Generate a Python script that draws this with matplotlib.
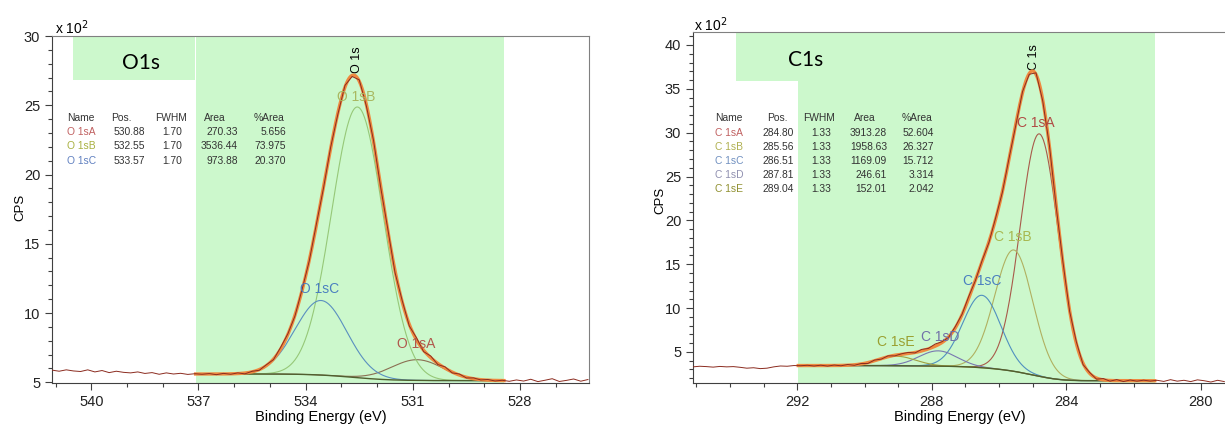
"""XPS O1s / C1s peak fits, CasaXPS style."""

import matplotlib.pyplot as plt
import numpy as np
from matplotlib.patches import Rectangle
from matplotlib.ticker import MultipleLocator

plt.rcParams["font.family"] = ["Liberation Sans", "DejaVu Sans"]

# Fit tables (values printed in the reference); intensities in CPS x 10^2.
o1s_names = ["O 1sA", "O 1sB", "O 1sC"]
o1s_pos = [530.88, 532.55, 533.57]
o1s_fwhm = [1.70, 1.70, 1.70]
o1s_area = [270.33, 3536.44, 973.88]
o1s_pct = [5.656, 73.975, 20.370]

c1s_names = ["C 1sA", "C 1sB", "C 1sC", "C 1sD", "C 1sE"]
c1s_pos = [284.80, 285.56, 286.51, 287.81, 289.04]
c1s_fwhm = [1.33, 1.33, 1.33, 1.33, 1.33]
c1s_area = [3913.28, 1958.63, 1169.09, 246.61, 152.01]
c1s_pct = [52.604, 26.327, 15.712, 3.314, 2.042]

# Fit windows and background end levels.
o1s_window = (528.45, 537.08)
o1s_bg_ends = (5.12, 5.6)  # low BE, high BE
c1s_window = (281.37, 291.97)
c1s_bg_ends = (1.72, 3.45)

# Raw-data deviations from the model, one per 0.2 eV from the low-BE end.
o1s_resid = [
    0.08, -0.04, 0.12, 0.02, -0.06, 0.14, 0.03, -0.07, 0.10, -0.03,
    0.05, -0.05, 0.02, -0.04, 0.05, -0.02, 0.06, -0.05, 0.08, -0.06,
    0.10, -0.08, 0.12, -0.10, 0.15, -0.12, 0.10, -0.15, 0.12, -0.10,
    0.08, -0.12, 0.10, -0.08, 0.12, -0.10, 0.08, -0.06, 0.10, -0.05,
    0.08, -0.06, 0.05, 0.12, -0.04, 0.06, -0.05, 0.04, -0.06, 0.05,
    -0.03, 0.04, -0.05, 0.03, -0.02, 0.02, -0.03, 0.05, 0.00, 0.08,
    -0.02, 0.10, 0.04, 0.15, 0.08, 0.12, 0.20, 0.10, 0.25, 0.15,
    0.30, 0.18, 0.22, 0.30, 0.20, 0.28,
]
c1s_resid = [
    -0.10, 0.05, -0.15, 0.00, 0.10, -0.10, 0.05, -0.05, 0.12, -0.08,
    0.05, -0.04, 0.06, -0.05, 0.08, -0.10, 0.12, -0.08, 0.15, -0.12,
    0.10, -0.15, 0.20, -0.10, 0.15, -0.20, 0.10, -0.12, 0.18, -0.10,
    0.12, -0.15, 0.10, -0.08, 0.15, -0.10, 0.12, -0.05, 0.20, 0.05,
    0.15, -0.05, 0.10, 0.25, 0.05, 0.18, -0.05, 0.12, 0.05, -0.08,
    0.10, -0.05, 0.08, -0.10, 0.05, -0.06, 0.08, -0.04, 0.05, -0.06,
    0.04, -0.05, 0.03, -0.02, 0.00, -0.08, -0.05, -0.15, -0.30, -0.35,
    -0.25, -0.30, -0.20, -0.12, -0.15, -0.10, -0.18, -0.12, -0.08, -0.15,
]

GREEN = "#ccf8cc"
ENV_COLOR = "#ee8a40"
RAW_COLOR = "#8b2b1f"
BG_COLOR = "#4f5f2f"


def gauss(x, pos, fwhm, area):
    # Component height in CPS x 10^2 from the printed area.
    sigma = fwhm / 2.3548
    height = area / (fwhm * 1.0645) / 100.0
    return height * np.exp(-0.5 * ((x - pos) / sigma) ** 2)


def shirley(x, peaks, lo, hi):
    # Background steps from lo to hi in proportion to cumulative peak area.
    cum = np.cumsum(peaks)
    return lo + (hi - lo) * cum / cum[-1]


def draw_panel(ax, pos, fwhm, area, window, bg_ends, resid, raw_start,
               comp_colors):
    x = np.linspace(window[0], window[1], 600)
    comps = [gauss(x, p, f, a) for p, f, a in zip(pos, fwhm, area)]
    peaks = np.sum(comps, axis=0)
    bg = shirley(x, peaks, *bg_ends)

    # Raw spectrum: model plus hand-read deviations.
    xr = raw_start + 0.2 * np.arange(len(resid))
    peaks_r = np.sum([gauss(xr, p, f, a) for p, f, a in zip(pos, fwhm, area)],
                     axis=0)
    bg_r = np.interp(xr, x, bg, left=bg_ends[0], right=bg_ends[1])
    raw = bg_r + peaks_r + np.asarray(resid)

    for comp, col in zip(comps, comp_colors):
        ax.plot(x, comp + bg, color=col, lw=0.8, zorder=3)
    ax.plot(x, bg, color=BG_COLOR, lw=1.0, zorder=3)
    ax.plot(x, peaks + bg, color=ENV_COLOR, lw=2.4, zorder=4)
    ax.plot(xr, raw, color=RAW_COLOR, lw=0.7, zorder=5)


def style_axis(ax, xlim, ylim, xmajor, ymajor):
    ax.set_xlim(*xlim)
    ax.set_ylim(*ylim)
    ax.xaxis.set_major_locator(MultipleLocator(xmajor))
    ax.xaxis.set_minor_locator(MultipleLocator(1))
    ax.yaxis.set_major_locator(MultipleLocator(ymajor))
    ax.yaxis.set_minor_locator(MultipleLocator(1))
    ax.tick_params(which="both", direction="out", colors="#404040",
                   labelcolor="#222222", labelsize=10.5)
    ax.tick_params(which="major", length=5, width=0.8)
    ax.tick_params(which="minor", length=3, width=0.8)
    for side in ("top", "right"):
        ax.spines[side].set_color("#808080")
    for side in ("left", "bottom"):
        ax.spines[side].set_color("#404040")
    ax.set_xlabel("Binding Energy (eV)", fontsize=10.5, labelpad=1)


W, H = 1225, 429
fig = plt.figure(figsize=(W / 100, H / 100), dpi=100)


def fx(px):
    return px / W


def fy(py):
    return 1 - py / H


# ---------------- O1s ----------------
ax1 = fig.add_axes([fx(52), fy(383), fx(589 - 52), fy(36) - fy(383)])
style_axis(ax1, (541.1, 526.07), (4.95, 30.0), 3, 5)
ax1.axvspan(o1s_window[1], o1s_window[0], color=GREEN, lw=0, zorder=0)
ax1.add_patch(Rectangle((537.1, 26.8), 540.5 - 537.1, 3.2, color=GREEN,
                        lw=0, zorder=0))
draw_panel(ax1, o1s_pos, o1s_fwhm, o1s_area, o1s_window, o1s_bg_ends,
           o1s_resid, 526.1, ["#8b6f52", "#96c878", "#5a8fc0"])
ax1.text(538.6, 28.05, "O1s", fontsize=15, family="Lato", ha="center",
         va="center")
ax1.text(532.55, 28.3, "O 1s", rotation=90, fontsize=9, ha="center",
         va="center")
ax1.text(532.6, 25.6, "O 1sB", color="#a8b860", fontsize=10, ha="center",
         va="center", zorder=6)
ax1.text(533.6, 11.7, "O 1sC", color="#4a7fc0", fontsize=10, ha="center",
         va="center", zorder=6)
ax1.text(530.9, 7.75, "O 1sA", color="#b0584c", fontsize=10, ha="center",
         va="center", zorder=6)
fig.text(fx(55), fy(37), r"x 10$^{2}$", fontsize=10, va="bottom")
fig.text(fx(20), fy(207), "CPS", rotation=90, fontsize=9.5, ha="center",
         va="center")

# ---------------- C1s ----------------
ax2 = fig.add_axes([fx(693), fy(383), fx(1226 - 693), fy(32) - fy(383)])
style_axis(ax2, (295.1, 279.25), (1.46, 41.48), 4, 5)
ax2.axvspan(c1s_window[1], c1s_window[0], color=GREEN, lw=0, zorder=0)
ax2.add_patch(Rectangle((291.97, 35.9), 293.82 - 291.97, 41.48 - 35.9,
                        color=GREEN, lw=0, zorder=0))
draw_panel(ax2, c1s_pos, c1s_fwhm, c1s_area, c1s_window, c1s_bg_ends,
           c1s_resid, 279.3,
           ["#a85a4a", "#b0b060", "#5090c0", "#7878b0", "#a0a040"])
ax2.text(291.76, 38.3, "C1s", fontsize=15, family="Lato", ha="center",
         va="center")
ax2.text(284.96, 38.6, "C 1s", rotation=90, fontsize=9, ha="center",
         va="center")
ax2.text(284.9, 31.1, "C 1sA", color="#b04a44", fontsize=10, ha="center",
         va="center", zorder=6)
ax2.text(285.6, 18.1, "C 1sB", color="#a8b850", fontsize=10, ha="center",
         va="center", zorder=6)
ax2.text(286.5, 13.1, "C 1sC", color="#4a7fc0", fontsize=10, ha="center",
         va="center", zorder=6)
ax2.text(287.75, 6.7, "C 1sD", color="#7070a8", fontsize=10, ha="center",
         va="center", zorder=6)
ax2.text(289.07, 6.1, "C 1sE", color="#9aa030", fontsize=10, ha="center",
         va="center", zorder=6)
fig.text(fx(694), fy(34), r"x 10$^{2}$", fontsize=10, va="bottom")
fig.text(fx(660), fy(200), "CPS", rotation=90, fontsize=9.5, ha="center",
         va="center")


# ---------------- fit tables ----------------
def draw_table(names, pos, fwhm, area, pct, name_colors, name_x, head_x,
               right_x, row_y):
    fs = 7.4
    txt = "#333333"
    fig.text(fx(name_x), fy(row_y[0]), "Name", fontsize=fs, color=txt,
             va="center")
    for hx, head in zip(head_x, ["Pos.", "FWHM", "Area", "%Area"]):
        fig.text(fx(hx), fy(row_y[0]), head, fontsize=fs, color=txt,
                 ha="center", va="center")
    for i, nm in enumerate(names):
        y = fy(row_y[i + 1])
        fig.text(fx(name_x), y, nm, fontsize=fs, color=name_colors[i],
                 va="center")
        vals = [f"{pos[i]:.2f}", f"{fwhm[i]:.2f}", f"{area[i]:.2f}",
                f"{pct[i]:.3f}"]
        for rx, v in zip(right_x, vals):
            fig.text(fx(rx), y, v, fontsize=fs, color=txt, ha="right",
                     va="center")


draw_table(o1s_names, o1s_pos, o1s_fwhm, o1s_area, o1s_pct,
           ["#c06060", "#a8b040", "#6080c0"],
           67, [121, 171, 215, 269], [145, 182, 238, 286],
           [118, 132, 146, 160.5])
draw_table(c1s_names, c1s_pos, c1s_fwhm, c1s_area, c1s_pct,
           ["#c06060", "#b0b050", "#7090c0", "#9090b0", "#909030"],
           715, [777.5, 818.7, 865, 917.5], [794, 830.7, 887, 934],
           [118, 132.5, 146.5, 160.5, 174.5, 188.5])

fig.savefig("out.png", dpi=100)
plt.close(fig)
